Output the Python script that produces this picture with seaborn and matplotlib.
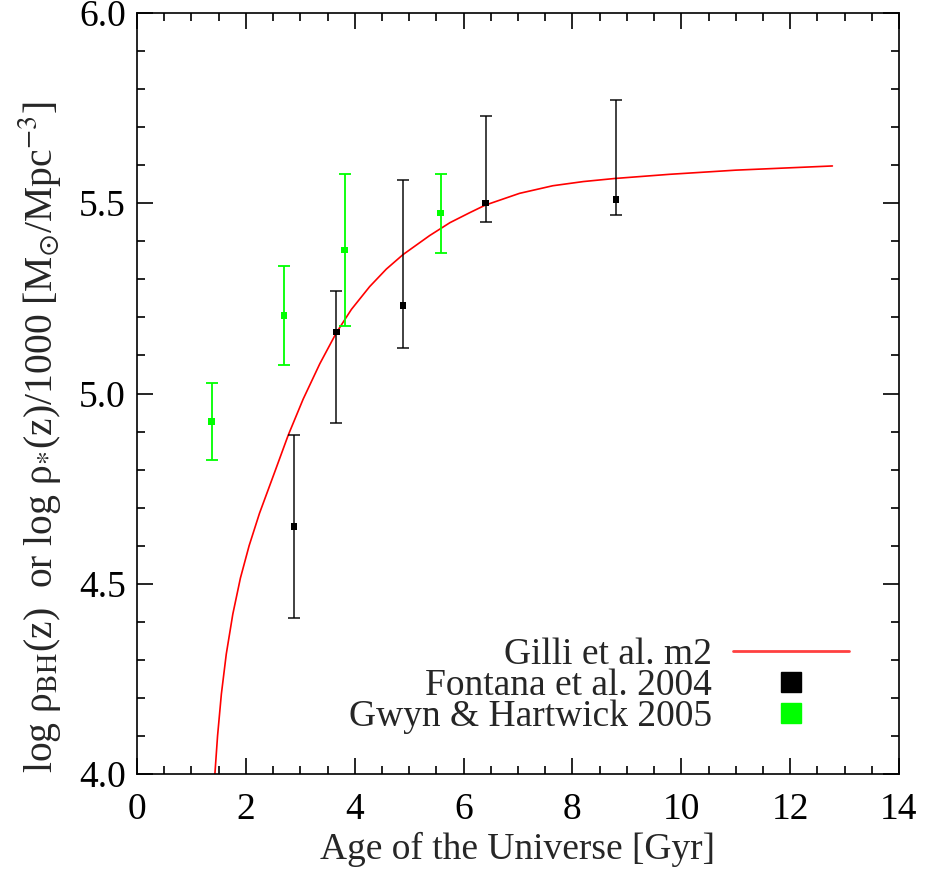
import numpy as np
import pandas as pd
import seaborn as sns
import matplotlib
matplotlib.use("Agg")
import matplotlib.pyplot as plt
from matplotlib.lines import Line2D
from matplotlib.ticker import MultipleLocator

# ---------------- data ----------------
model_age = [1.431, 1.48, 1.55, 1.64, 1.76, 1.90, 2.06, 2.25, 2.544, 2.777,
             3.052, 3.358, 3.664, 3.939, 4.275, 4.581, 4.887, 5.376, 5.75, 6.110,
             6.398, 7.028, 7.639, 8.2, 8.771, 9.780, 11.003, 12.776]
model_logrho = [4.0, 4.10, 4.21, 4.315, 4.42, 4.515, 4.60, 4.685, 4.799, 4.89,
                4.985, 5.078, 5.160, 5.221, 5.281, 5.327, 5.365, 5.415, 5.449, 5.475,
                5.495, 5.526, 5.546, 5.557, 5.565, 5.576, 5.587, 5.598]

fontana_age = [2.886, 3.664, 4.887, 6.404, 8.80]
fontana_val = [4.650, 5.161, 5.231, 5.501, 5.510]
fontana_hi = [4.891, 5.270, 5.561, 5.730, 5.771]
fontana_lo = [4.411, 4.922, 5.120, 5.451, 5.470]

gwyn_age = [1.370, 2.697, 3.817, 5.578]
gwyn_val = [4.926, 5.205, 5.377, 5.474]
gwyn_hi = [5.027, 5.336, 5.577, 5.577]
gwyn_lo = [4.825, 5.076, 5.178, 5.370]

x_ticks = [0, 2, 4, 6, 8, 10, 12, 14]
x_ticklabels = ["0", "2", "4", "6", "8", "10", "12", "14"]
y_ticks = [4.0, 4.5, 5.0, 5.5, 6.0]
y_ticklabels = ["4.0", "4.5", "5.0", "5.5", "6.0"]

legend_labels = ["Gilli et al. m2", "Fontana et al. 2004", "Gwyn & Hartwick 2005"]

# ---------------- style ----------------
sns.set_theme(style="ticks")
SERIF = ["Liberation Serif", "DejaVu Serif"]
plt.rcParams["font.family"] = SERIF
plt.rcParams["font.serif"] = SERIF
plt.rcParams["mathtext.fontset"] = "stix"
plt.rcParams["axes.linewidth"] = 1.2

FS = 27
fig = plt.figure(figsize=(9.34, 8.73), dpi=100)
ax = fig.add_axes([137/934, 1-774/873, (899-137)/934, (774-13)/873])

model_df = pd.DataFrame({"age": model_age, "rho": model_logrho})
sns.lineplot(data=model_df, x="age", y="rho", color="red", lw=1.2, sort=False, ax=ax)

# error bars
ax.errorbar(fontana_age, fontana_val,
            yerr=[np.subtract(fontana_val, fontana_lo), np.subtract(fontana_hi, fontana_val)],
            fmt="none", ecolor="black", elinewidth=1.3, capsize=4.5, capthick=1.3, alpha=0.8)
ax.errorbar(gwyn_age, gwyn_val,
            yerr=[np.subtract(gwyn_val, gwyn_lo), np.subtract(gwyn_hi, gwyn_val)],
            fmt="none", ecolor="#00ff00", elinewidth=1.3, capsize=4.5, capthick=1.3)
sns.scatterplot(x=fontana_age, y=fontana_val, color="black", marker="s", s=22,
                edgecolor="none", ax=ax, zorder=5)
sns.scatterplot(x=gwyn_age, y=gwyn_val, color="#00ff00", marker="s", s=22,
                edgecolor="none", ax=ax, zorder=5)

ax.set_xlim(0, 14)
ax.set_ylim(4.0, 6.0)
ax.set_xticks(x_ticks)
ax.set_xticklabels(x_ticklabels, fontfamily=SERIF, fontsize=FS)
ax.set_yticks(y_ticks)
ax.set_yticklabels(y_ticklabels, fontfamily=SERIF, fontsize=FS)
ax.xaxis.set_minor_locator(MultipleLocator(0.5))
ax.yaxis.set_minor_locator(MultipleLocator(0.1))
ax.tick_params(which="both", direction="in", top=True, right=True, colors="black", width=1.2)
ax.tick_params(axis="y", which="major", length=11.5, pad=8)
ax.tick_params(axis="x", which="major", length=11.5, pad=13)
ax.tick_params(which="minor", length=5.8)
for s in ax.spines.values():
    s.set_visible(True)
    s.set_color("black")
    s.set_linewidth(1.2)

ax.set_xlabel("Age of the Universe [Gyr]", fontsize=FS, fontfamily=SERIF)
ax.xaxis.set_label_coords(0.5, -0.076)
ax.set_ylabel(r"log ρ$_{\rm BH}$(z)  or log ρ$_{*}$(z)/1000 [M$_{\odot}$/Mpc$^{-3}$]",
              fontsize=28.5, fontfamily=SERIF)
ax.yaxis.set_label_coords(-0.097, 0.443)

handles = [
    Line2D([], [], color="#ff4040", lw=2.0),
    Line2D([], [], color="black", marker="s", markersize=14, linestyle="none"),
    Line2D([], [], color="#00ff00", marker="s", markersize=14, linestyle="none"),
]
ax.legend(handles, legend_labels, loc="center right",
          bbox_to_anchor=((849-137)/762, (774-686)/761),
          frameon=False, markerfirst=False, handlelength=3.1,
          handletextpad=0.55, labelspacing=-0.1, borderpad=0, borderaxespad=0,
          prop={"family": SERIF, "size": FS})

fig.savefig("out.png", dpi=100)
